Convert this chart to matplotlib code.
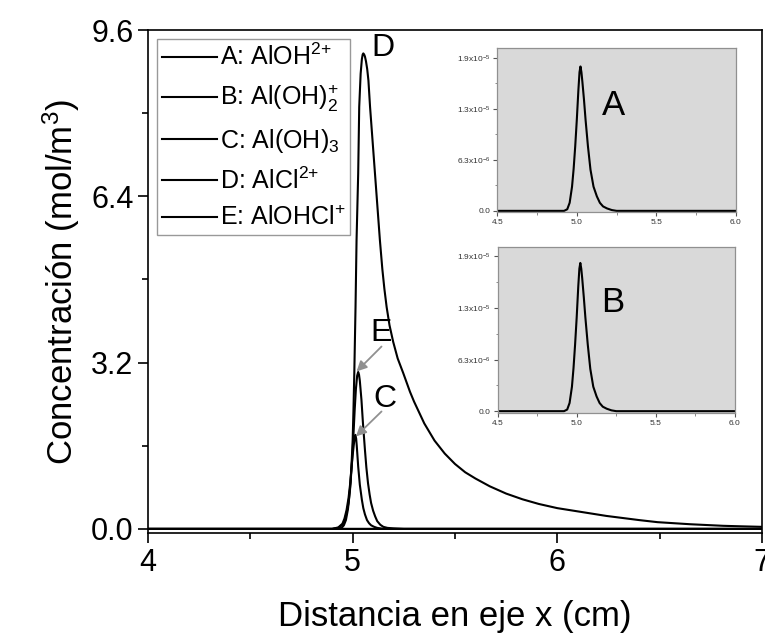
import matplotlib
matplotlib.use("Agg")
import matplotlib.pyplot as plt
from matplotlib.ticker import FixedLocator, FormatStrFormatter

plt.rcParams["font.family"] = ["Liberation Sans", "DejaVu Sans"]
plt.rcParams["mathtext.default"] = "regular"

# main curves (x in cm, concentration in mol/m3)
d_x = [4.0, 4.90, 4.93, 4.946, 4.957, 4.967, 4.977, 4.987, 4.994, 5.0, 5.004,
       5.008, 5.014, 5.019, 5.027, 5.032, 5.039, 5.045, 5.049, 5.052, 5.056,
       5.06, 5.065, 5.071, 5.077, 5.085, 5.097, 5.109, 5.121, 5.133, 5.145,
       5.155, 5.166, 5.18, 5.198, 5.22, 5.247, 5.28, 5.3, 5.35, 5.40, 5.45,
       5.5, 5.55, 5.6, 5.67, 5.75, 5.83, 5.91, 6.0, 6.08, 6.16, 6.24, 6.32,
       6.4, 6.49, 6.57, 6.65, 6.73, 6.81, 6.9, 7.0]
d_c = [0.0, 0.0, 0.005, 0.02, 0.07, 0.17, 0.38, 0.75, 1.2, 1.71, 2.3,
       3.0, 4.27, 5.56, 6.84, 8.12, 8.76, 9.04, 9.13, 9.15, 9.13,
       9.09, 9.0, 8.85, 8.63, 8.12, 7.48, 6.84, 6.2, 5.56, 5.0,
       4.62, 4.27, 3.92, 3.6, 3.28, 3.0, 2.64, 2.45, 2.03, 1.70, 1.45,
       1.25, 1.09, 0.97, 0.82, 0.68, 0.57, 0.48, 0.40, 0.35, 0.30, 0.25, 0.21,
       0.17, 0.13, 0.11, 0.09, 0.075, 0.06, 0.05, 0.04]

e_x = [4.0, 4.90, 4.93, 4.95, 4.96, 4.97, 4.98, 4.99, 5.0, 5.01, 5.016, 5.022,
       5.027, 5.031, 5.035, 5.043, 5.05, 5.06, 5.067, 5.075, 5.083, 5.09, 5.10,
       5.11, 5.12, 5.135, 5.15, 5.17, 5.2, 5.25, 7.0]
e_c = [0.0, 0.0, 0.02, 0.08, 0.15, 0.3, 0.5, 0.9, 1.5, 2.3, 2.7, 2.95,
       3.02, 2.97, 2.85, 2.48, 2.05, 1.52, 1.18, 0.88, 0.66, 0.5, 0.35,
       0.24, 0.15, 0.08, 0.04, 0.02, 0.01, 0.0, 0.0]

c_x = [4.0, 4.90, 4.93, 4.95, 4.96, 4.97, 4.98, 4.988, 4.995, 5.0, 5.005, 5.009,
       5.013, 5.017, 5.02, 5.027, 5.035, 5.045, 5.052, 5.06, 5.07, 5.08, 5.09,
       5.105, 5.12, 5.15, 7.0]
c_c = [0.0, 0.0, 0.03, 0.1, 0.2, 0.36, 0.6, 0.88, 1.2, 1.42, 1.6, 1.74,
       1.81, 1.74, 1.6, 1.2, 0.85, 0.56, 0.4, 0.28, 0.17, 0.11, 0.07,
       0.04, 0.02, 0.0, 0.0]

# A and B are ~1e-5, flat at zero in the main panel
a_x = [4.0, 4.5, 4.92, 4.94, 4.955, 4.97, 4.98, 4.99, 5.0, 5.01, 5.017, 5.023,
       5.029, 5.035, 5.045, 5.055, 5.07, 5.086, 5.105, 5.126, 5.145, 5.165,
       5.19, 5.22, 5.25, 6.0, 7.0]
a_c = [0.0, 0.0, 0.0, 0.02e-5, 0.1e-5, 0.3e-5, 0.52e-5, 0.8e-5, 1.13e-5, 1.5e-5,
       1.72e-5, 1.79e-5, 1.72e-5, 1.6e-5, 1.38e-5, 1.13e-5, 0.8e-5, 0.51e-5,
       0.3e-5, 0.18e-5, 0.1e-5, 0.055e-5, 0.03e-5, 0.01e-5, 0.0, 0.0, 0.0]
b_x = a_x
b_c = [0.0, 0.0, 0.0, 0.02e-5, 0.1e-5, 0.3e-5, 0.53e-5, 0.82e-5, 1.15e-5, 1.53e-5,
       1.75e-5, 1.82e-5, 1.75e-5, 1.63e-5, 1.4e-5, 1.15e-5, 0.82e-5, 0.52e-5,
       0.3e-5, 0.18e-5, 0.1e-5, 0.055e-5, 0.03e-5, 0.01e-5, 0.0, 0.0, 0.0]

# {+} keeps mathtext from padding the sign like a binary operator
labels = ["A: AlOH$^{2{+}}$", "B: Al(OH)$_2^{{+}}$", "C: Al(OH)$_3$",
          "D: AlCl$^{2{+}}$", "E: AlOHCl$^{{+}}$"]

main_yticks = [0.0, 3.2, 6.4, 9.6]
main_xticks = [4, 5, 6, 7]
inset_yticks = [0.0, 6.33e-6, 1.267e-5, 1.9e-5]
inset_ylabels = ["0.0", "6.3x10$^{-6}$", "1.3x10$^{-5}$", "1.9x10$^{-5}$"]
inset_xticks = [4.5, 5.0, 5.5, 6.0]

fig = plt.figure(figsize=(7.65, 6.39), dpi=100)
ax = fig.add_axes([0.1935, 0.166, 0.8025, 0.787])

lw = 1.5
series = [(a_x, a_c), (b_x, b_c), (c_x, c_c), (d_x, d_c), (e_x, e_c)]
for (xs, ys), lab in zip(series, labels):
    ax.plot(xs, ys, color="black", lw=lw, label=lab)

ax.set_xlim(4, 7)
ax.set_ylim(-0.077, 9.6)
ax.xaxis.set_major_locator(FixedLocator(main_xticks))
ax.xaxis.set_minor_locator(FixedLocator([4.5, 5.5, 6.5]))
ax.yaxis.set_major_locator(FixedLocator(main_yticks))
ax.yaxis.set_minor_locator(FixedLocator([1.6, 4.8, 8.0]))
ax.yaxis.set_major_formatter(FormatStrFormatter("%.1f"))
ax.tick_params(which="major", direction="out", length=7, width=1.2, labelsize=22)
ax.tick_params(which="minor", direction="out", length=4.5, width=1.2)
for sp in ax.spines.values():
    sp.set_linewidth(1.2)
ax.set_xlabel("Distancia en eje x (cm)", fontsize=25, labelpad=16)
ax.set_ylabel("Concentración (mol/m$^3$)", fontsize=25, labelpad=6)

leg = ax.legend(loc="upper left", bbox_to_anchor=(0.0147, 0.982), borderaxespad=0,
                fontsize=18, handlelength=2.2, handletextpad=0.1, borderpad=0.2,
                labelspacing=0.5, fancybox=False, frameon=True)
leg.get_frame().set_edgecolor("#808080")
leg.get_frame().set_linewidth(1.0)

ax.text(5.148, 9.25, "D", fontsize=23, ha="center", va="center")
ax.text(5.138, 3.77, "E", fontsize=23, ha="center", va="center")
ax.text(5.158, 2.5, "C", fontsize=23, ha="center", va="center")
arrow = dict(arrowstyle="-|>", color="#909090", lw=1.3, mutation_scale=15,
             shrinkA=0, shrinkB=0)
ax.annotate("", xy=(5.019, 3.03), xytext=(5.141, 3.51), arrowprops=arrow)
ax.annotate("", xy=(5.016, 1.78), xytext=(5.141, 2.26), arrowprops=arrow)


def inset(rect, xs, ys, letter, ly):
    ins = fig.add_axes(rect)
    ins.set_facecolor("#d9d9d9")
    ins.plot(xs, ys, color="black", lw=1.5)
    ins.set_xlim(4.5, 6.0)
    ins.set_ylim(-2e-7, 2.02e-5)
    ins.xaxis.set_major_locator(FixedLocator(inset_xticks))
    ins.xaxis.set_minor_locator(FixedLocator([4.75, 5.25, 5.75]))
    ins.xaxis.set_major_formatter(FormatStrFormatter("%.1f"))
    ins.yaxis.set_major_locator(FixedLocator(inset_yticks))
    ins.set_yticklabels(inset_ylabels)
    ins.yaxis.set_minor_locator(FixedLocator([3.17e-6, 9.5e-6, 1.58e-5]))
    ins.tick_params(which="major", direction="out", length=3, width=0.8,
                    labelsize=6, colors="#555555", labelcolor="#333333", pad=2)
    ins.tick_params(which="minor", direction="out", length=1.8, width=0.6, colors="#777777")
    for sp in ins.spines.values():
        sp.set_color("#909090")
        sp.set_linewidth(0.9)
    ins.text(5.23, ly, letter, fontsize=25, ha="center", va="center")
    return ins


inset([0.650, 0.6675, 0.312, 0.2575], a_x, a_c, "A", 1.31e-5)
inset([0.6505, 0.354, 0.310, 0.260], b_x, b_c, "B", 1.33e-5)

fig.savefig("out.png", dpi=100)
